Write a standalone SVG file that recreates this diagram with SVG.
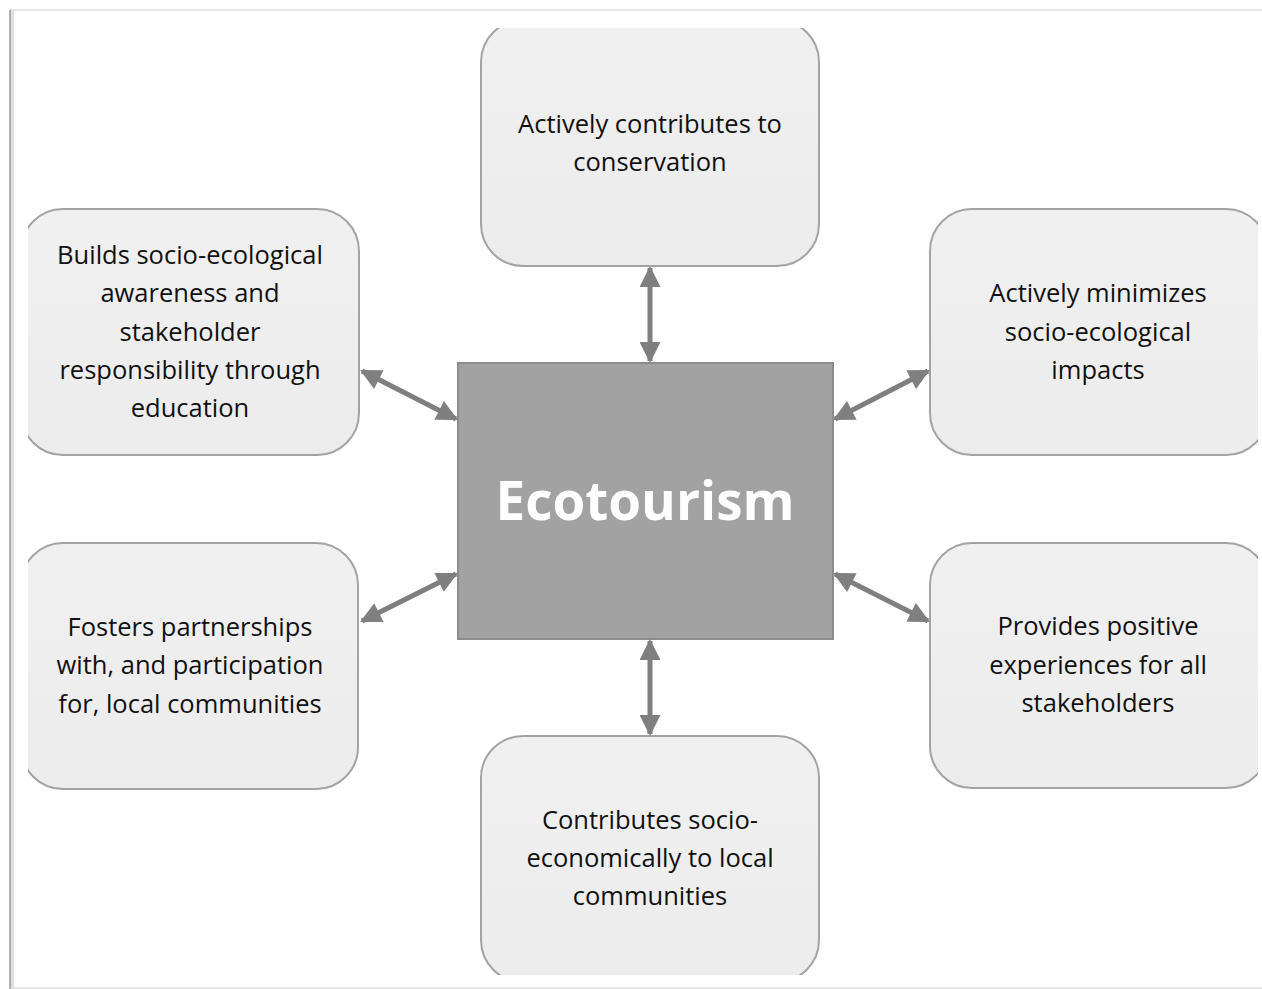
<svg xmlns="http://www.w3.org/2000/svg" width="1262" height="989" viewBox="0 0 1262 989">
<defs>
<style>
.box{fill:url(#g);stroke:#a3a3a3;stroke-width:2}
.t{font-family:"Open Sans","Liberation Sans",sans-serif;font-size:25.5px;fill:#111;text-anchor:middle}
.c{stroke:#7f7f7f;stroke-width:5;fill:none;marker-start:url(#ah);marker-end:url(#ah)}
</style>
<linearGradient id="g" x1="0" y1="0" x2="0" y2="1"><stop offset="0" stop-color="#f0f0f0"/><stop offset="1" stop-color="#ececec"/></linearGradient>
<marker id="ah" viewBox="0 0 10 10" refX="9" refY="5" markerWidth="4.6" markerHeight="4.2" orient="auto-start-reverse"><path d="M0,0 L10,5 L0,10 z" fill="#7f7f7f"/></marker>
<clipPath id="clip"><rect x="28" y="28" width="1230" height="947"/></clipPath>
</defs>
<rect width="1262" height="989" fill="#fff"/>
<g id="frame">
<line x1="10" y1="10" x2="1262" y2="10" stroke="#e6e6e6" stroke-width="2"/>
<line x1="10" y1="988" x2="1262" y2="988" stroke="#e6e6e6" stroke-width="2"/>
<line x1="12" y1="10" x2="12" y2="989" stroke="#e0e0e0" stroke-width="4"/>
<line x1="10" y1="10" x2="10" y2="989" stroke="#9a9a9a" stroke-width="1.5"/>
</g>
<g clip-path="url(#clip)">
<g id="n-top"><rect class="box" x="481" y="20" width="338" height="246" rx="42"/>
<text class="t"><tspan x="650" y="133">Actively contributes to</tspan><tspan x="650" y="171">conservation</tspan></text></g>
<g id="n-ul"><rect class="box" x="21" y="209" width="338" height="246" rx="42"/>
<text class="t"><tspan x="190" y="264">Builds socio-ecological</tspan><tspan x="190" y="302">awareness and</tspan><tspan x="190" y="341">stakeholder</tspan><tspan x="190" y="379">responsibility through</tspan><tspan x="190" y="417">education</tspan></text></g>
<g id="n-ur"><rect class="box" x="930" y="209" width="338" height="246" rx="42"/>
<text class="t"><tspan x="1098" y="302">Actively minimizes</tspan><tspan x="1098" y="341">socio-ecological</tspan><tspan x="1098" y="379">impacts</tspan></text></g>
<g id="n-ll"><rect class="box" x="21" y="543" width="337" height="246" rx="42"/>
<text class="t"><tspan x="190" y="636">Fosters partnerships</tspan><tspan x="190" y="674">with, and participation</tspan><tspan x="190" y="713">for, local communities</tspan></text></g>
<g id="n-lr"><rect class="box" x="930" y="543" width="338" height="245" rx="42"/>
<text class="t"><tspan x="1098" y="635">Provides positive</tspan><tspan x="1098" y="674">experiences for all</tspan><tspan x="1098" y="712">stakeholders</tspan></text></g>
<g id="n-bot"><rect class="box" x="481" y="736" width="338" height="246" rx="42"/>
<text class="t"><tspan x="650" y="829">Contributes socio-</tspan><tspan x="650" y="867">economically to local</tspan><tspan x="650" y="905">communities</tspan></text></g>
</g>
<g id="center"><rect x="458" y="363" width="375" height="276" fill="#a2a2a2" stroke="#8c8c8c" stroke-width="2"/>
<text x="645" y="520" font-family="'Open Sans','Liberation Sans',sans-serif" font-weight="bold" font-size="53" fill="#fff" text-anchor="middle">Ecotourism</text></g>
<g id="connectors">
<line class="c" x1="650" y1="268" x2="650" y2="361"/>
<line class="c" x1="650" y1="641" x2="650" y2="734"/>
<line class="c" x1="362" y1="371" x2="456" y2="419"/>
<line class="c" x1="835" y1="419" x2="928" y2="371"/>
<line class="c" x1="362" y1="621" x2="456" y2="574"/>
<line class="c" x1="835" y1="574" x2="928" y2="621"/>
</g>
</svg>
